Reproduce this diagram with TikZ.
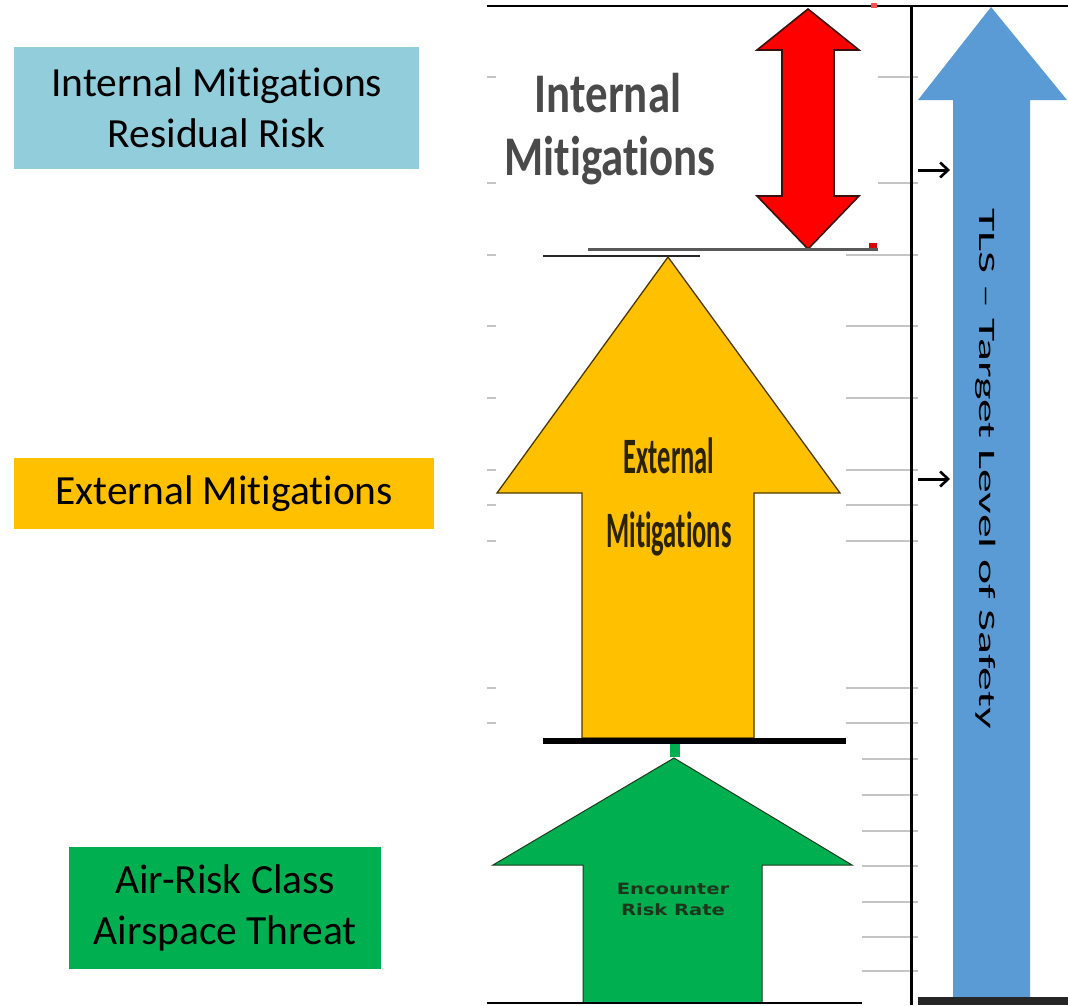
\documentclass[tikz,border=0pt]{standalone}
\usepackage{fontspec}
\usepackage{graphicx}
\setmainfont[Ligatures=NoCommon]{Carlito}
\newfontfamily\encfont{DejaVu Sans}
\usetikzlibrary{arrows.meta}

\definecolor{aquabox}{HTML}{92CDDC}
\definecolor{ambox}{HTML}{FFC000}
\definecolor{grbox}{HTML}{00B050}
\definecolor{tlsblue}{HTML}{5B9BD5}
\definecolor{tickgray}{HTML}{C4C4C4}
\definecolor{redfill}{HTML}{FF0000}
\definecolor{rededge}{HTML}{3A1010}
\definecolor{amedge}{HTML}{4A3A00}
\definecolor{gredge}{HTML}{1E3A1E}
\definecolor{intxt}{HTML}{4A4A4A}
\definecolor{extxt}{HTML}{2B2200}
\definecolor{enctxt}{HTML}{1C361C}

\begin{document}
\begin{tikzpicture}[x=1pt,y=-1pt,
  labelbox/.style={rectangle, inner sep=0pt, anchor=north west, align=center,
    text=black, font=\fontsize{41.5}{51}\selectfont},
  tick/.style={draw=tickgray, line width=1.6pt},
  rule/.style={draw=black, line width=#1},
  pointer/.style={draw=black, line width=3pt, -{Straight Barb[length=8pt,width=15pt,line width=2.6pt]}},
  bigtext/.style={inner sep=0pt, anchor=base}]

\useasboundingbox[fill=white] (0,0) rectangle (1068,1005);

% legend boxes on the left
\node[labelbox, fill=aquabox, minimum width=405pt, minimum height=122pt] (irr) at (14,47)
  {Internal Mitigations\\Residual Risk};
\node[labelbox, fill=ambox, minimum width=420pt, minimum height=71pt] (ext) at (14,458)
  {External Mitigations};
\node[labelbox, fill=grbox, minimum width=312pt, minimum height=122pt] (arc) at (69,847)
  {Air-Risk Class\\Airspace Threat};

% short grid ticks along the left edge of the chart
\foreach \y in {77,183,255,326,398,470,505,541,688,723}
  \draw[tick] (487,\y) -- (496,\y);
% grid ticks on the right side of the chart
\foreach \y in {77,183}
  \draw[tick] (878,\y) -- (918,\y);
\foreach \y in {255,326,398,470,505,541,688,723}
  \draw[tick] (846,\y) -- (918,\y);
\foreach \y in {759,795,831,866,902,937,971}
  \draw[tick] (862,\y) -- (918,\y);

% frame lines
\draw[rule=2pt] (487,6) -- (1068,6);
\draw[rule=3pt] (911,6) -- (911,1005);

% red double arrow: internal mitigations
\draw[fill=redfill, draw=rededge, line width=1.6pt, line join=miter]
  (808,9) -- (859,50) -- (834,50) -- (834,196) -- (859,196) -- (808,249)
  -- (757,196) -- (782,196) -- (782,50) -- (757,50) -- cycle;
\node[bigtext, text=intxt, font=\bfseries\fontsize{56}{63}\selectfont] (int1) at (608,112)
  {\scalebox{0.8}[1]{Internal}};
\node[bigtext, text=intxt, font=\bfseries\fontsize{56}{63}\selectfont] (int2) at (610,175)
  {\scalebox{0.8}[1]{Mitigations}};
\fill[red!70] (871,3) rectangle (877,8);
\fill[red!85!black] (869,243) rectangle (877,250);

% separators between the stages
\draw[draw=black!65, line width=3pt] (588,249) -- (878,249);
\draw[draw=black!85, line width=2.5pt] (543,256) -- (700,256);

% amber arrow: external mitigations
\draw[fill=ambox, draw=amedge, line width=1.3pt, line join=miter]
  (668,257) -- (840,493) -- (754,493) -- (754,738) -- (582,738)
  -- (582,493) -- (497,493) -- cycle;
\node[bigtext, text=extxt, font=\bfseries\fontsize{51}{60}\selectfont] (ext1) at (669,473)
  {\scalebox{0.52}[1]{External}};
\node[bigtext, text=extxt, font=\bfseries\fontsize{51}{60}\selectfont] (ext2) at (669,547)
  {\scalebox{0.52}[1]{Mitigations}};
\draw[rule=6pt] (543,741) -- (846,741);

% green arrow: encounter risk rate
\fill[grbox] (670,744) rectangle (680,757);
\draw[fill=grbox, draw=gredge, line width=1pt, line join=miter]
  (674,758) -- (852,865) -- (762,865) -- (762,1003) -- (583,1003)
  -- (583,865) -- (493,865) -- cycle;
\node[bigtext, text=enctxt, font=\encfont\bfseries\fontsize{15.5}{20}\selectfont] (enc1) at (673,894)
  {\scalebox{1.26}[1]{Encounter}};
\node[bigtext, text=enctxt, font=\encfont\bfseries\fontsize{15.5}{20}\selectfont] (enc2) at (673,915)
  {\scalebox{1.26}[1]{Risk Rate}};
\draw[rule=2pt] (487,1003) -- (862,1003);

% blue arrow: target level of safety
\fill[tlsblue] (991,7) -- (1067,100) -- (1030,100) -- (1030,997) -- (953,997)
  -- (953,100) -- (918,100) -- cycle;
\node[inner sep=0pt, anchor=base west, rotate=-90, text=black,
  font=\fontsize{23.5}{28}\selectfont] (tls) at (979,208)
  {\scalebox{2.03}[1]{TLS – Target Level of Safety}};
\fill[black!85] (918,997) rectangle (1068,1005);

% pointers onto the safety target
\coordinate (pa) at (918,170);
\coordinate (pb) at (950,170);
\coordinate (pc) at (918,479);
\coordinate (pd) at (950,479);
\draw[pointer] (pa) -- (pb);
\draw[pointer] (pc) -- (pd);

\end{tikzpicture}
\end{document}
